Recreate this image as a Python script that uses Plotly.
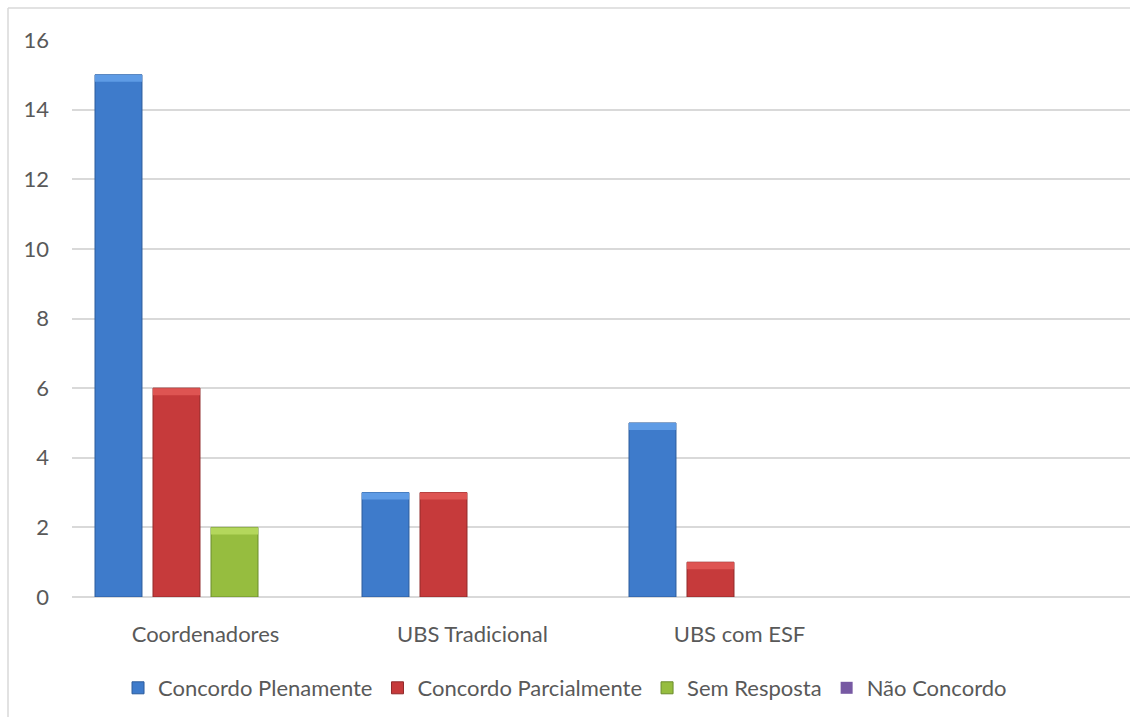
import plotly.graph_objects as go

# ---- data ----
categories = ["Coordenadores", "UBS Tradicional", "UBS com ESF", ""]
series_names = ["Concordo Plenamente", "Concordo Parcialmente", "Sem Resposta", "Não Concordo"]
concordo_plenamente = [15, 3, 5, 0]
concordo_parcialmente = [6, 3, 1, 0]
sem_resposta = [2, 0, 0, 0]
nao_concordo = [0, 0, 0, 0]
y_tick_values = [0, 2, 4, 6, 8, 10, 12, 14, 16]

# ---- styling ----
body_colors = ["#3e7bcb", "#c63a3b", "#96bd3f", "#7759a3"]
edge_colors = ["#2c5c9c", "#912a2a", "#6b8c2c", "#54407a"]
bevel_colors = ["#5e9be5", "#de5452", "#b4d75c", "#9479bf"]
text_color = "#595959"
grid_color = "#d9d9d9"
font_family = "Lato, 'Open Sans', sans-serif"

W, H = 1130, 717
L, T, B = 72, 40, 120
plot_w = W - L
plot_h = H - T - B
cat_px = 267  # width of one category band; the last band runs past the right edge
x_range = [-0.5, -0.5 + plot_w / cat_px]
y_range = [0, 16]
bevel_h = 7 * (y_range[1] - y_range[0]) / plot_h

all_series = [concordo_plenamente, concordo_parcialmente, sem_resposta, nao_concordo]
x_pos = list(range(len(categories)))

fig = go.Figure()
for i, (name, vals) in enumerate(zip(series_names, all_series)):
    fig.add_trace(go.Bar(
        x=x_pos, y=vals, name=name,
        offsetgroup=str(i),
        marker=dict(color=body_colors[i],
                    line=dict(color=edge_colors[i],
                              width=[1 if v > 0 else 0 for v in vals])),
        hoverinfo="y+name",
    ))
    # lighter bevel along the top of each bar
    fig.add_trace(go.Bar(
        x=x_pos,
        y=[bevel_h if v > 0 else None for v in vals],
        base=[v - bevel_h if v > 0 else None for v in vals],
        offsetgroup=str(i),
        marker=dict(color=bevel_colors[i], line=dict(width=0)),
        showlegend=False, hoverinfo="skip",
    ))

# outer chart frame (left and top edges visible)
fx0 = (8 - L) / plot_w
fy0 = (H - B - 8) / plot_h
fig.add_shape(type="line", xref="paper", yref="paper",
              x0=fx0, x1=fx0, y0=fy0, y1=-B / plot_h - 0.1,
              line=dict(color=grid_color, width=1.5))
fig.add_shape(type="line", xref="paper", yref="paper",
              x0=fx0, x1=1.2, y0=fy0, y1=fy0,
              line=dict(color=grid_color, width=1.5))

fig.update_layout(
    width=W, height=H,
    margin=dict(l=L, r=0, t=T, b=B, pad=0),
    paper_bgcolor="white", plot_bgcolor="white",
    barmode="group", bargap=0.131, bargroupgap=0.19,
    font=dict(family=font_family, size=22, color=text_color),
    showlegend=True,
    legend=dict(
        orientation="h", x=0.466, xanchor="center",
        y=(H - B - 688) / plot_h, yanchor="middle",
        font=dict(family=font_family, size=22, color=text_color),
        itemclick=False, itemdoubleclick=False,
        itemwidth=30, tracegroupgap=0,
    ),
    xaxis=dict(
        range=x_range, tickmode="array", tickvals=x_pos, ticktext=categories,
        showgrid=False, zeroline=False, showline=False, ticks="",
        ticklabelstandoff=22, fixedrange=True,
    ),
    yaxis=dict(
        range=y_range, tickmode="array", tickvals=y_tick_values,
        showgrid=True, gridcolor=grid_color, gridwidth=1.5,
        zeroline=True, zerolinecolor=grid_color, zerolinewidth=1.5,
        showline=False, ticks="", ticklabelstandoff=22, fixedrange=True,
    ),
)

fig.write_html("out.html", config={"displayModeBar": False})
